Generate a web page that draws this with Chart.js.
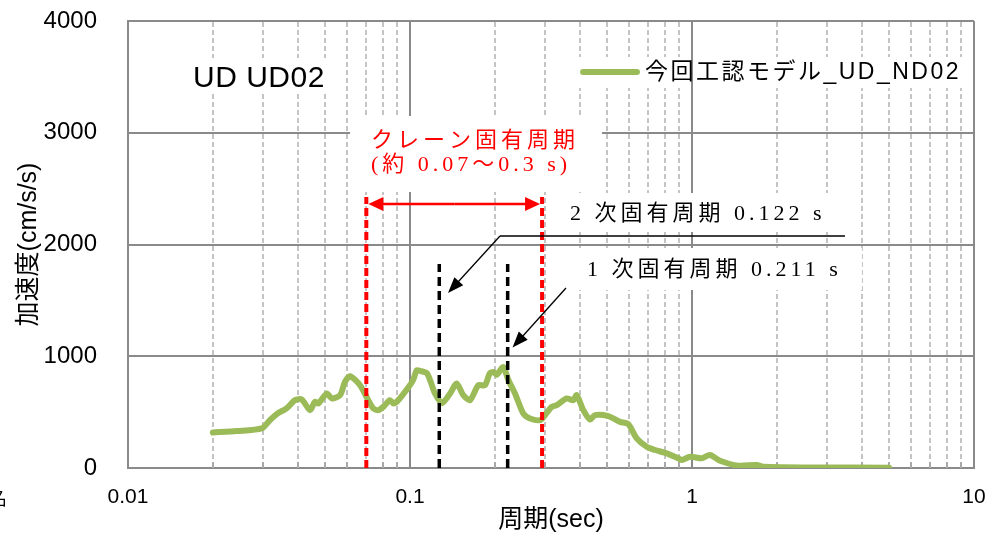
<!DOCTYPE html>
<html lang="ja">
<head>
<meta charset="UTF-8">
<title>UD UD02</title>
<script src="https://cdn.jsdelivr.net/npm/chart.js"></script>
<style>
  html, body { margin: 0; padding: 0; background: #fff; }
  #wrap { width: 1006px; height: 536px; }
</style>
</head>
<body>
<div id="wrap"><canvas id="chart" width="1006" height="536"></canvas></div>
<script>
// spectrum (period s, acceleration cm/s/s)
const periods = [
  0.0200, 0.0243, 0.0298, 0.0319, 0.0340, 0.0365, 0.0391, 0.0413, 0.0442, 0.0460,
  0.0473, 0.0507, 0.0528, 0.0565, 0.0588, 0.0613, 0.0665, 0.0711, 0.0741, 0.0772,
  0.0804, 0.0849, 0.0873, 0.0909, 0.0986, 0.1027, 0.1056, 0.1085, 0.1146, 0.1178,
  0.1226, 0.1300, 0.1387, 0.1464, 0.1545, 0.1633, 0.1747, 0.1845, 0.1918, 0.1974,
  0.2030, 0.2142, 0.2232, 0.2357, 0.2522, 0.2665, 0.2891, 0.3011, 0.3180, 0.3313,
  0.3595, 0.3795, 0.3900, 0.4117, 0.4348, 0.4529, 0.5049, 0.5555, 0.5944, 0.6368,
  0.6909, 0.7393, 0.8134, 0.8943, 0.9195, 0.9838, 1.082, 1.158, 1.257, 1.460,
  1.696, 1.790, 2.84, 5.0
];
const accel = [
  318, 331, 354, 430, 490, 533, 607, 613, 518, 592,
  577, 667, 622, 652, 771, 821, 741, 607, 533, 518,
  547, 607, 577, 607, 720, 790, 875, 869, 850, 787,
  667, 580, 667, 756, 652, 607, 741, 741, 847, 860,
  835, 904, 787, 667, 488, 443, 428, 473, 547, 562,
  622, 607, 652, 518, 434, 473, 464, 413, 393, 265,
  190, 161, 131, 87, 71, 101, 87, 116, 65, 21,
  27, 12, 5, 3
];

const xTickValues = [0.01, 0.1, 1, 10];
const xTickLabels = ['0.01', '0.1', '1', '10'];
const xMinorValues = [0.02, 0.03, 0.04, 0.05, 0.06, 0.07, 0.08, 0.09,
                      0.2, 0.3, 0.4, 0.5, 0.6, 0.7, 0.8, 0.9,
                      2, 3, 4, 5, 6, 7, 8, 9];
const yTickValues = [0, 1000, 2000, 3000, 4000];
const yTickLabels = ['0', '1000', '2000', '3000', '4000'];

// crane natural period range and the 1st/2nd mode markers
const craneRange = [0.07, 0.294];
const craneLineTop = 2425;
const modePeriods = [0.127, 0.222];
const modeLineTop = 1825;

const seriesName = '今回工認モデル_UD_ND02';
const SANS = '"Liberation Sans", "Noto Sans CJK JP", sans-serif';
const SERIF = '"Liberation Serif", "Noto Sans CJK JP", serif';
const GREEN = '#9BBB59';
const GRID = '#8A8A8A';

// annotation placement in data units (period, acceleration)
const whiteBoxes = [
  [0.0163, 0.0520, 3669, 3347],  // title
  [0.394, 9.52, 3678, 3400],     // legend
  [0.0613, 0.4797, 3150, 2470],  // crane text
  [0.3459, 3.693, 2461, 2112],   // 2nd mode text
  [0.3847, 4.006, 1969, 1593]    // 1st mode text
];

function arrowTo(ctx, x1, y1, x2, y2, len, half) {
  const a = Math.atan2(y2 - y1, x2 - x1);
  const c = Math.cos(a), s = Math.sin(a);
  ctx.beginPath();
  ctx.moveTo(x1, y1);
  ctx.lineTo(x2 - c * len * 0.8, y2 - s * len * 0.8);
  ctx.stroke();
  ctx.beginPath();
  ctx.moveTo(x2, y2);
  ctx.lineTo(x2 - len * c + half * s, y2 - len * s - half * c);
  ctx.lineTo(x2 - len * c - half * s, y2 - len * s + half * c);
  ctx.closePath();
  ctx.fill();
}

const annotations = {
  id: 'annotations',
  beforeDatasetsDraw(chart) {
    const {ctx, chartArea: area, scales: {x, y}} = chart;
    ctx.save();

    // dashed minor grid + inside minor ticks
    ctx.strokeStyle = '#C4C4C4';
    ctx.lineWidth = 2;
    ctx.setLineDash([5, 3]);
    xMinorValues.forEach(v => {
      const px = Math.round(x.getPixelForValue(v));
      ctx.beginPath();
      ctx.moveTo(px, area.top + 1);
      ctx.lineTo(px, area.bottom - 1);
      ctx.stroke();
    });
    ctx.setLineDash([]);
    ctx.strokeStyle = '#A8A8A8';
    xMinorValues.forEach(v => {
      const px = Math.round(x.getPixelForValue(v));
      ctx.beginPath();
      ctx.moveTo(px, area.bottom);
      ctx.lineTo(px, area.bottom - 6);
      ctx.stroke();
    });

    // white backgrounds behind the text blocks
    ctx.fillStyle = '#ffffff';
    whiteBoxes.forEach(([t1, t2, a1, a2]) => {
      const x1 = x.getPixelForValue(t1), x2 = x.getPixelForValue(t2);
      const y1 = y.getPixelForValue(a1), y2 = y.getPixelForValue(a2);
      ctx.fillRect(x1, y1, x2 - x1, y2 - y1);
    });

    // major line at 1 s shows through the legend
    const p1 = x.getPixelForValue(1);
    ctx.strokeStyle = GRID;
    ctx.lineWidth = 2;
    ctx.beginPath();
    ctx.moveTo(p1, y.getPixelForValue(3678));
    ctx.lineTo(p1, y.getPixelForValue(3400));
    ctx.stroke();

    // title
    ctx.fillStyle = '#000';
    ctx.textBaseline = 'alphabetic';
    ctx.textAlign = 'left';
    ctx.font = '30px ' + SANS;
    ctx.letterSpacing = '0.5px';
    ctx.fillText('UD UD02', x.getPixelForValue(0.0170), y.getPixelForValue(3409));

    // legend
    ctx.strokeStyle = GREEN;
    ctx.lineWidth = 6;
    ctx.lineCap = 'round';
    const ly = y.getPixelForValue(3544);
    ctx.beginPath();
    ctx.moveTo(x.getPixelForValue(0.4108), ly);
    ctx.lineTo(x.getPixelForValue(0.638), ly);
    ctx.stroke();
    ctx.textBaseline = 'middle';
    ctx.font = '23px ' + SANS;
    ctx.letterSpacing = '2.5px';
    ctx.fillText(seriesName, x.getPixelForValue(0.681), ly + 1);

    // crane period text
    ctx.textBaseline = 'alphabetic';
    ctx.fillStyle = '#FF0000';
    ctx.font = '22px ' + SERIF;
    ctx.letterSpacing = '4px';
    ctx.fillText('クレーン固有周期', x.getPixelForValue(0.0727), y.getPixelForValue(2872));
    ctx.fillText('(約 0.07～0.3 s)', x.getPixelForValue(0.0727), y.getPixelForValue(2658));

    // mode texts
    ctx.fillStyle = '#000';
    ctx.fillText('2 次固有周期 0.122 s', x.getPixelForValue(0.3693), y.getPixelForValue(2219));
    ctx.fillText('1 次固有周期 0.211 s', x.getPixelForValue(0.4243), y.getPixelForValue(1718));

    // cropped character at the left edge of the source picture
    ctx.letterSpacing = '0px';
    ctx.font = '18px ' + SERIF;
    ctx.fillText('名', -11, 505);
    ctx.restore();
  },
  afterDatasetsDraw(chart) {
    const {ctx, scales: {x, y}} = chart;
    ctx.save();

    // red double arrow between the crane range lines
    ctx.strokeStyle = '#FF0000';
    ctx.fillStyle = '#FF0000';
    ctx.lineWidth = 2.5;
    const ay = y.getPixelForValue(2362);
    const xa = x.getPixelForValue(craneRange[0]) + 2;
    const xb = x.getPixelForValue(craneRange[1]) - 2;
    const mid = (xa + xb) / 2;
    arrowTo(ctx, mid, ay, xa, ay, 15, 7);
    arrowTo(ctx, mid, ay, xb, ay, 15, 7);

    // leader line and arrows for the mode labels
    ctx.strokeStyle = '#000';
    ctx.fillStyle = '#000';
    ctx.lineWidth = 1.6;
    const ly = y.getPixelForValue(2076);
    const lx = x.getPixelForValue(0.2085);
    ctx.beginPath();
    ctx.moveTo(lx, ly);
    ctx.lineTo(x.getPixelForValue(3.488), ly);
    ctx.stroke();
    ctx.lineWidth = 1.3;
    arrowTo(ctx, lx, ly, x.getPixelForValue(0.1364), y.getPixelForValue(1566), 16, 6);
    arrowTo(ctx, x.getPixelForValue(0.3574), y.getPixelForValue(1611),
            x.getPixelForValue(0.2310), y.getPixelForValue(1078), 16, 6);
    ctx.restore();
  }
};

const spectrum = periods.map((p, i) => ({x: p, y: accel[i]}));

const datasets = [{
  label: seriesName,
  data: spectrum,
  borderColor: GREEN,
  borderWidth: 6,
  borderCapStyle: 'round',
  borderJoinStyle: 'round',
  pointRadius: 0,
  tension: 0.25,
  order: 2
}];
craneRange.forEach(t => datasets.push({
  data: [{x: t, y: 0}, {x: t, y: craneLineTop}],
  borderColor: '#FF0000',
  borderWidth: 4,
  borderDash: [8, 4],
  pointRadius: 0,
  order: 1
}));
modePeriods.forEach(t => datasets.push({
  data: [{x: t, y: 0}, {x: t, y: modeLineTop}],
  borderColor: '#000000',
  borderWidth: 3.5,
  borderDash: [9, 5],
  pointRadius: 0,
  order: 1
}));

new Chart(document.getElementById('chart').getContext('2d'), {
  type: 'line',
  data: {datasets: datasets},
  options: {
    responsive: false,
    animation: false,
    devicePixelRatio: 1,
    layout: {padding: {top: 21, right: 32, left: 0, bottom: 0}},
    plugins: {legend: {display: false}, tooltip: {enabled: false}},
    scales: {
      x: {
        type: 'logarithmic',
        min: 0.01,
        max: 10,
        afterBuildTicks: s => { s.ticks = xTickValues.map(v => ({value: v, major: true})); },
        afterFit: s => { s.height = 68; s.paddingLeft = 0; s.paddingRight = 0; },
        ticks: {
          autoSkip: false,
          maxRotation: 0,
          padding: 17,
          color: '#000',
          font: {family: SANS, size: 21},
          callback: (v, i) => xTickLabels[i]
        },
        grid: {color: GRID, lineWidth: 2, drawTicks: false},
        border: {color: GRID, width: 2},
        title: {
          display: true,
          text: '周期(sec)',
          color: '#000',
          font: {family: SANS, size: 25},
          padding: {top: 0, bottom: 1}
        }
      },
      y: {
        min: 0,
        max: 4000,
        afterBuildTicks: s => { s.ticks = yTickValues.map(v => ({value: v})); },
        afterFit: s => { s.width = 128; s.paddingTop = 0; s.paddingBottom = 0; },
        ticks: {
          padding: 31,
          color: '#000',
          font: {family: SANS, size: 24},
          callback: (v, i) => yTickLabels[i]
        },
        grid: {color: GRID, lineWidth: 2, drawTicks: false},
        border: {color: GRID, width: 2},
        title: {
          display: true,
          text: '加速度(cm/s/s)',
          color: '#000',
          font: {family: SANS, size: 25},
          padding: {top: 14, bottom: 0}
        }
      }
    }
  },
  plugins: [annotations]
});
</script>
</body>
</html>
